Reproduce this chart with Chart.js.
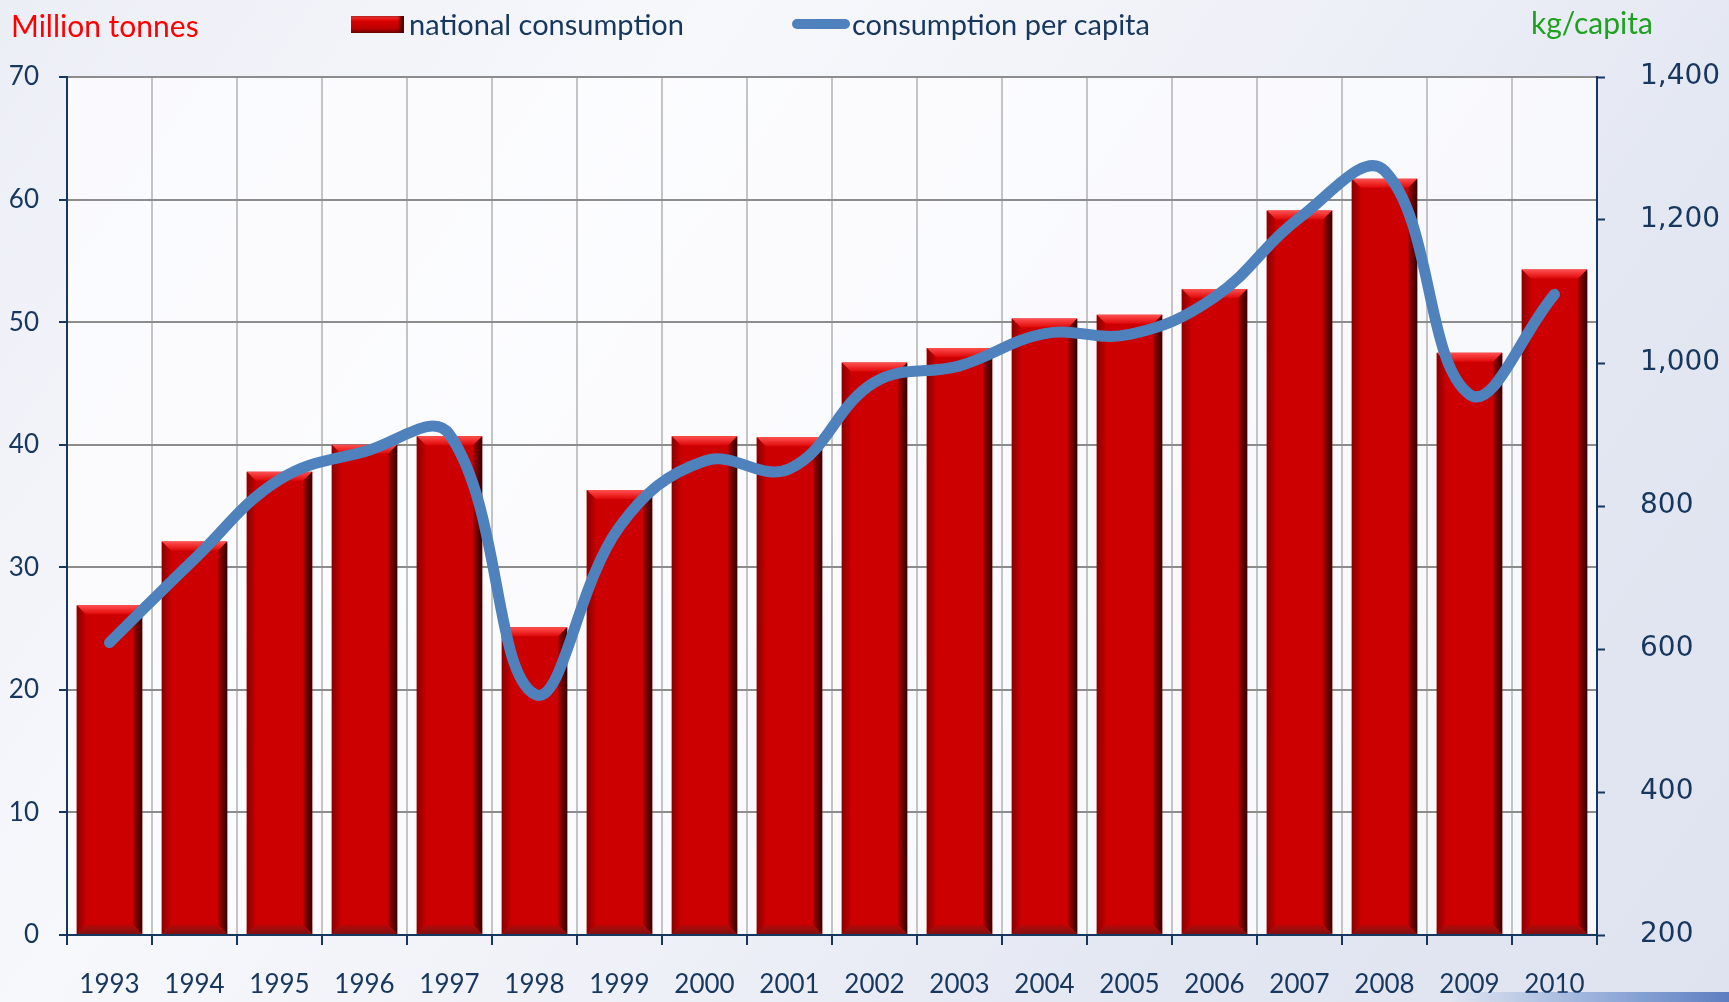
<!DOCTYPE html>
<html>
<head>
<meta charset="utf-8">
<script src="https://cdn.jsdelivr.net/npm/chart.js@4"></script>
<style>
  html, body { margin: 0; padding: 0; }
  body {
    width: 1729px; height: 1002px; overflow: hidden; position: relative;
    background: linear-gradient(125deg, #eceef6 0%, #f7f8fc 30%, #eef0f7 55%, #e3e7f2 75%, #dfe3ef 100%);
    font-family: Lato, "Open Sans", sans-serif;
  }
  #chart { position: absolute; left: 0; top: 0; }
  .lbl { position: absolute; font-size: 30px; white-space: nowrap; line-height: 1; }
  #leftTitle { left: 11px; top: 10px; color: #ff0000; }
  #rightTitle { left: 1531px; top: 7px; color: #20a020; }
  #legend { position: absolute; left: 351px; top: 7px; display: flex; align-items: center; color: #17375e; font-size: 29px; line-height: 1.2; }
  .sw-bar { width: 53px; height: 17px; margin-right: 5px;
    background: linear-gradient(180deg, #ff4040 0%, #d80000 30%, #c00000 70%, #7a0000 100%);
    box-shadow: inset -4px 0 3px #500000; }
  .sw-line { width: 58px; height: 10px; border-radius: 5px; background: #4f81bd; margin: 0 2px 0 108px; }
  #swoosh { position: absolute; left: 1450px; top: 992px; width: 279px; height: 10px;
    background: linear-gradient(90deg, rgba(90,130,200,0) 0%, rgba(90,130,200,0.6) 60%, rgba(60,100,180,0.8) 100%); }
</style>
</head>
<body>
<canvas id="chart" width="1729" height="1002"></canvas>
<div class="lbl" id="leftTitle">Million tonnes</div>
<div class="lbl" id="rightTitle">kg/capita</div>
<div id="legend"></div>
<div id="swoosh"></div>
<script>
// Data
const years = ['1993', '1994', '1995', '1996', '1997', '1998', '1999', '2000', '2001',
               '2002', '2003', '2004', '2005', '2006', '2007', '2008', '2009', '2010'];
const nationalConsumption = [26.9, 32.1, 37.8, 40.0, 40.7, 25.1, 36.3, 40.7, 40.6,
                             46.7, 47.9, 50.3, 50.6, 52.7, 59.1, 61.7, 47.5, 54.3];
const perCapita = [609, 726, 837, 876, 900, 537, 771, 863, 852,
                   973, 996, 1041, 1040, 1092, 1203, 1269, 956, 1096];
const leftTicks = [0, 10, 20, 30, 40, 50, 60, 70];
const rightTicks = [200, 400, 600, 800, 1000, 1200, 1400];
const seriesLabels = ['national consumption', 'consumption per capita'];

const navy = '#17375e';

// white-ish plot area behind everything
const plotBg = {
  id: 'plotBg',
  beforeDraw(chart) {
    const {ctx, chartArea: a} = chart;
    ctx.save();
    ctx.fillStyle = 'rgba(252,252,255,0.8)';
    ctx.fillRect(a.left, a.top, a.right - a.left, a.bottom - a.top);
    ctx.restore();
  }
};

// bevel look on the bars (uses the bar elements placed by Chart.js)
const bevel = {
  id: 'bevel',
  afterDatasetDraw(chart, args) {
    if (args.index !== 0) return;
    const ctx = chart.ctx;
    ctx.save();
    args.meta.data.forEach(bar => {
      const p = bar.getProps(['x', 'y', 'base', 'width'], true);
      const l = p.x - p.width / 2, r = p.x + p.width / 2, t = p.y, b = p.base, e = 9;
      // top
      let g = ctx.createLinearGradient(0, t, 0, t + e);
      g.addColorStop(0, '#ff5050');
      g.addColorStop(1, '#e00808');
      ctx.fillStyle = g;
      ctx.beginPath(); ctx.moveTo(l, t); ctx.lineTo(r, t); ctx.lineTo(r - e, t + e); ctx.lineTo(l + e, t + e); ctx.closePath(); ctx.fill();
      // right side
      g = ctx.createLinearGradient(r - e, 0, r, 0);
      g.addColorStop(0, '#a80000');
      g.addColorStop(1, '#300000');
      ctx.fillStyle = g;
      ctx.beginPath(); ctx.moveTo(r, t); ctx.lineTo(r, b); ctx.lineTo(r - e, b - e); ctx.lineTo(r - e, t + e); ctx.closePath(); ctx.fill();
      // left side
      g = ctx.createLinearGradient(l, 0, l + e, 0);
      g.addColorStop(0, '#8a0000');
      g.addColorStop(1, '#c40000');
      ctx.fillStyle = g;
      ctx.beginPath(); ctx.moveTo(l, t); ctx.lineTo(l + e, t + e); ctx.lineTo(l + e, b - e); ctx.lineTo(l, b); ctx.closePath(); ctx.fill();
      // bottom
      g = ctx.createLinearGradient(0, b - e, 0, b);
      g.addColorStop(0, '#b80808');
      g.addColorStop(1, '#801010');
      ctx.fillStyle = g;
      ctx.beginPath(); ctx.moveTo(l, b); ctx.lineTo(r, b); ctx.lineTo(r - e, b - e); ctx.lineTo(l + e, b - e); ctx.closePath(); ctx.fill();
    });
    ctx.restore();
  }
};

const chart = new Chart(document.getElementById('chart').getContext('2d'), {
  type: 'bar',
  data: {
    labels: years,
    datasets: [{
      type: 'bar',
      label: seriesLabels[0],
      data: nationalConsumption,
      yAxisID: 'y',
      backgroundColor: '#cc0000',
      categoryPercentage: 1,
      barPercentage: 0.77,
      order: 2
    }, {
      type: 'line',
      label: seriesLabels[1],
      data: perCapita,
      yAxisID: 'y2',
      borderColor: '#4f81bd',
      borderWidth: 11,
      borderCapStyle: 'round',
      borderJoinStyle: 'round',
      tension: 0.4,
      pointRadius: 0,
      fill: false,
      order: 1
    }]
  },
  options: {
    responsive: false,
    animation: false,
    layout: { padding: { top: 77, left: 0, right: 0, bottom: 0 } },
    plugins: { legend: { display: false }, tooltip: { enabled: false } },
    scales: {
      x: {
        offset: true,
        grid: { offset: true, color: '#c4c4c4', lineWidth: 2, tickColor: navy, tickLength: 10, tickWidth: 2 },
        border: { color: navy, width: 2 },
        ticks: { color: navy, font: { family: 'Lato', size: 26 }, padding: 24, maxRotation: 0 },
        afterFit: s => { s.height = 67; }
      },
      y: {
        position: 'left',
        min: leftTicks[0],
        max: leftTicks[leftTicks.length - 1],
        afterBuildTicks: s => { s.ticks = leftTicks.map(v => ({value: v})); },
        grid: { color: '#8c8c8c', lineWidth: 2, tickColor: navy, tickLength: 8, tickWidth: 2 },
        border: { color: navy, width: 2 },
        ticks: { color: navy, font: { family: 'Lato', size: 26 }, padding: 20 },
        afterFit: s => { s.width = 67; }
      },
      y2: {
        position: 'right',
        min: rightTicks[0],
        max: rightTicks[rightTicks.length - 1],
        afterBuildTicks: s => { s.ticks = rightTicks.map(v => ({value: v})); },
        grid: { drawOnChartArea: false, tickColor: navy, tickLength: 8, tickWidth: 2 },
        border: { color: navy, width: 2 },
        ticks: {
          color: navy, font: { family: 'DejaVu Sans', size: 28 }, padding: 35,
          callback: v => v.toLocaleString('en-US')
        },
        afterFit: s => { s.width = 132; }
      }
    }
  },
  plugins: [plotBg, bevel]
});

// legend built from the dataset labels
const legend = document.getElementById('legend');
chart.data.datasets.forEach((ds, i) => {
  const sw = document.createElement('div');
  sw.className = i === 0 ? 'sw-bar' : 'sw-line';
  const tx = document.createElement('span');
  tx.textContent = ds.label;
  legend.appendChild(sw);
  legend.appendChild(tx);
});
</script>
</body>
</html>
